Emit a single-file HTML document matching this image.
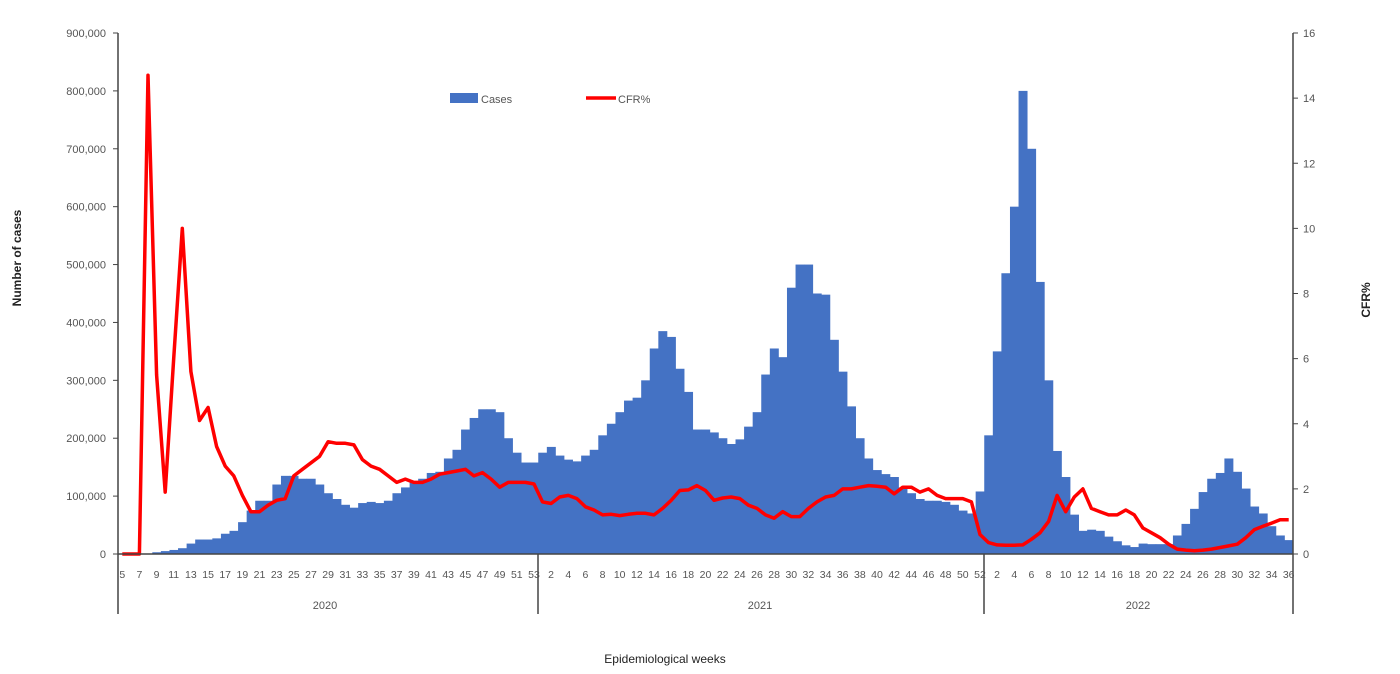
<!DOCTYPE html>
<html><head><meta charset="utf-8"><style>
html,body{margin:0;padding:0;background:#fff;}
svg{display:block;font-family:"Liberation Sans",sans-serif;}
</style></head><body>
<svg id="c" width="1400" height="674" viewBox="0 0 1400 674" xmlns="http://www.w3.org/2000/svg"></svg>
<script>
const cases=[0,0,0,0,3,5,7,10,18,25,25,27,35,40,55,75,92,92,120,135,135,130,130,120,105,95,85,80,88,90,88,92,105,115,125,130,140,142,165,180,215,235,250,250,245,200,175,158,158,
175,185,170,163,160,170,180,205,225,245,265,270,300,355,385,375,320,280,215,215,210,200,190,198,220,245,310,355,340,460,500,500,450,448,370,315,255,200,165,145,138,133,115,105,95,92,92,90,85,75,70,108,
205,350,485,600,800,700,470,300,178,133,68,40,42,40,30,22,15,12,18,17,17,17,32,52,78,107,130,140,165,142,113,82,70,48,32,24];
const cfr=[0,0,0,14.7,5.5,1.9,6,10,5.6,4.1,4.5,3.3,2.7,2.4,1.8,1.3,1.3,1.5,1.65,1.7,2.4,2.6,2.8,3.0,3.45,3.4,3.4,3.35,2.9,2.7,2.6,2.4,2.2,2.3,2.2,2.2,2.3,2.45,2.5,2.55,2.6,2.4,2.5,2.3,2.05,2.2,2.2,2.2,2.15,
1.6,1.55,1.75,1.8,1.7,1.45,1.35,1.2,1.22,1.18,1.22,1.25,1.25,1.2,1.4,1.65,1.95,1.97,2.1,1.95,1.65,1.72,1.75,1.7,1.5,1.4,1.2,1.1,1.3,1.15,1.15,1.4,1.6,1.75,1.8,2.0,2.0,2.05,2.1,2.08,2.05,1.85,2.05,2.05,1.9,2.0,1.8,1.7,1.7,1.7,1.6,0.6,
0.35,0.28,0.27,0.27,0.28,0.45,0.65,1.0,1.8,1.3,1.75,2.0,1.4,1.3,1.2,1.2,1.35,1.2,0.8,0.65,0.5,0.3,0.15,0.12,0.1,0.12,0.15,0.2,0.25,0.3,0.5,0.75,0.85,0.95,1.05,1.05];
const X0=118,X1=1293,Y0=554,Y1=33,N=137,W=(X1-X0)/N;
let s='';
// bars
for(let i=0;i<N;i++){const h=cases[i]/900*(Y0-Y1);if(h>0)s+=`<rect x="${(X0+i*W).toFixed(2)}" y="${(Y0-h).toFixed(2)}" width="${(W+0.4).toFixed(2)}" height="${h.toFixed(2)}" fill="#4472c4"/>`;}
// line
let p=cfr.map((v,i)=>`${(X0+(i+0.5)*W).toFixed(1)},${(Y0-v/16*(Y0-Y1)).toFixed(1)}`).join(' ');
s+=`<polyline points="${p}" fill="none" stroke="#ff0000" stroke-width="3.5" stroke-linejoin="round"/>`;
// axes
s+=`<line x1="${X0}" y1="${Y1}" x2="${X0}" y2="614" stroke="#444" stroke-width="1.5"/>`;
s+=`<line x1="${X1}" y1="${Y1}" x2="${X1}" y2="614" stroke="#444" stroke-width="1.5"/>`;
s+=`<line x1="${X0}" y1="${Y0}" x2="${X1}" y2="${Y0}" stroke="#444" stroke-width="1.5"/>`;
s+=`<line x1="538" y1="${Y0}" x2="538" y2="614" stroke="#444" stroke-width="1.5"/>`;
s+=`<line x1="984" y1="${Y0}" x2="984" y2="614" stroke="#444" stroke-width="1.5"/>`;
// left ticks
for(let k=0;k<=9;k++){const y=Y0-k/9*(Y0-Y1);const lab=k==0?'0':(k*100)+',000';
s+=`<line x1="${X0-5}" y1="${y}" x2="${X0}" y2="${y}" stroke="#444"/>`;
s+=`<text x="${X0-12}" y="${y+4}" font-size="11" fill="#555" text-anchor="end">${lab}</text>`;}
for(let k=0;k<=8;k++){const y=Y0-k/8*(Y0-Y1);
s+=`<line x1="${X1}" y1="${y}" x2="${X1+5}" y2="${y}" stroke="#444"/>`;
s+=`<text x="${X1+10}" y="${y+4}" font-size="11" fill="#555">${k*2}</text>`;}
// week labels
const wk=[];for(let w=5;w<=53;w++)wk.push(w);for(let w=1;w<=52;w++)wk.push(w);for(let w=1;w<=36;w++)wk.push(w);
for(let i=0;i<N;i++){if(wk[i]%2==(i<49?1:0)){s+=`<text x="${(X0+(i+0.5)*W).toFixed(1)}" y="578" font-size="10.5" fill="#555" text-anchor="middle">${wk[i]}</text>`;}}
s+=`<text x="325" y="609" font-size="11" fill="#555" text-anchor="middle">2020</text>`;
s+=`<text x="760" y="609" font-size="11" fill="#555" text-anchor="middle">2021</text>`;
s+=`<text x="1138" y="609" font-size="11" fill="#555" text-anchor="middle">2022</text>`;
// titles
s+=`<text x="665" y="663" font-size="12" fill="#222" text-anchor="middle">Epidemiological weeks</text>`;
s+=`<text transform="translate(21,258) rotate(-90)" font-size="12" font-weight="bold" fill="#222" text-anchor="middle">Number of cases</text>`;
s+=`<text transform="translate(1370,300) rotate(-90)" font-size="12" font-weight="bold" fill="#222" text-anchor="middle">CFR%</text>`;
// legend
s+=`<rect x="450" y="93" width="28" height="10" fill="#4472c4"/><text x="481" y="103" font-size="11" fill="#555">Cases</text>`;
s+=`<line x1="586" y1="98" x2="616" y2="98" stroke="#ff0000" stroke-width="3.5"/><text x="618" y="103" font-size="11" fill="#555">CFR%</text>`;
document.getElementById('c').innerHTML=s;
</script>
</body></html>
